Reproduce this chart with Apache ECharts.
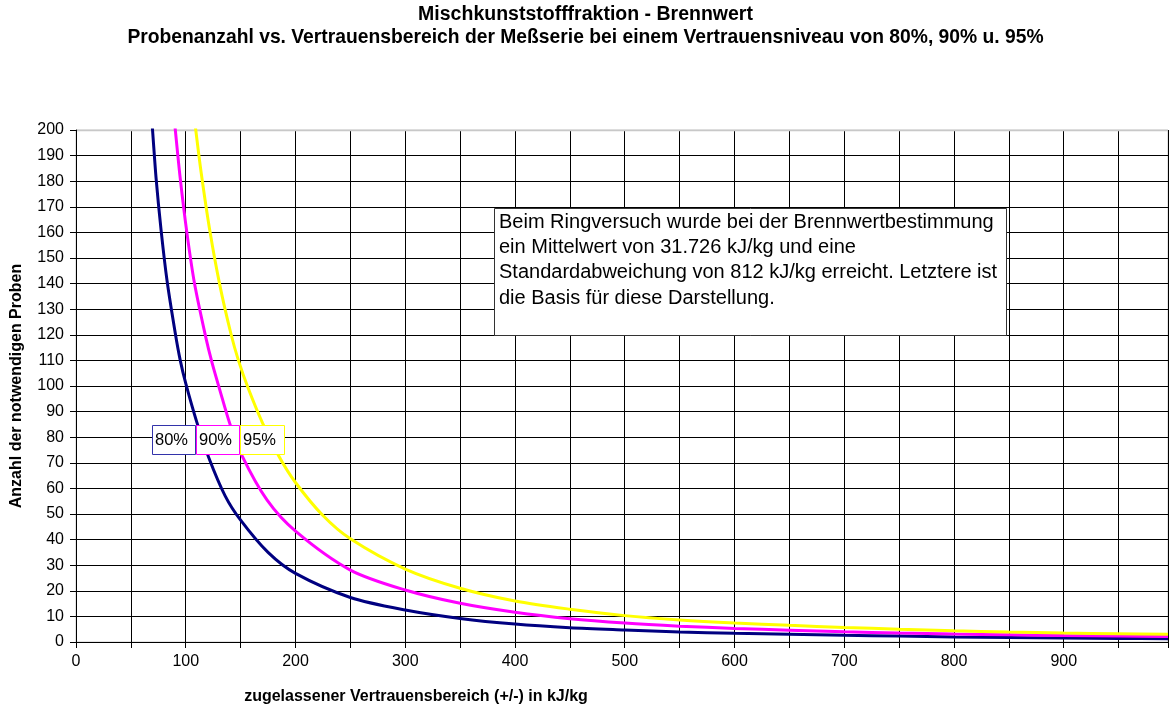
<!DOCTYPE html>
<html>
<head>
<meta charset="utf-8">
<script src="https://cdn.jsdelivr.net/npm/echarts@6/dist/echarts.min.js"></script>
<style>
html,body{margin:0;padding:0;background:#fff;}
#chart{width:1171px;height:707px;}
</style>
</head>
<body>
<div id="chart"></div>
<script>
// ---- data ----
const titleLine1 = 'Mischkunststofffraktion - Brennwert';
const titleLine2 = 'Probenanzahl vs. Vertrauensbereich der Meßserie bei einem Vertrauensniveau von 80%, 90% u. 95%';
const xAxisTitle = 'zugelassener Vertrauensbereich (+/-) in kJ/kg';
const yAxisTitle = 'Anzahl der notwendigen Proben';
const seriesNames = ['80%', '90%', '95%'];
const seriesColors = ['#000080', '#FF00FF', '#FFFF00'];

// 80 % confidence level
const E80 = [67, 70, 73, 77.5, 83, 90.5, 95, 100, 110, 121, 136, 150, 175, 200, 250, 300, 350, 400, 450, 500, 550, 600, 650, 700, 750, 800, 850, 900, 950, 995];
const N80 = [216, 198.5, 181, 161, 141, 120.5, 110, 101, 86, 72, 57, 47.6, 35, 26.8, 17.4, 12.5, 9.2, 7.0, 5.6, 4.7, 3.9, 3.4, 3.0, 2.6, 2.3, 2.0, 1.8, 1.6, 1.4, 1.3];
// 90 % confidence level
const E90 = [88, 90.5, 95, 101, 108, 118, 124, 131, 140, 151, 174, 200, 250, 300, 350, 400, 450, 500, 550, 600, 650, 700, 750, 800, 850, 900, 950, 995];
const N90 = [211, 200, 181, 160, 140, 119.5, 109, 98.5, 85.5, 73, 55.5, 43.3, 28.1, 20.3, 15.1, 11.6, 9.1, 7.4, 6.2, 5.3, 4.6, 4.0, 3.5, 3.1, 2.8, 2.5, 2.3, 2.1];
// 95 % confidence level
const E95 = [106, 109, 114, 122, 131, 141, 148, 157, 170, 185, 200, 225, 250, 300, 350, 400, 450, 500, 550, 600, 650, 700, 750, 800, 850, 900, 950, 995];
const N95 = [212, 200.5, 183.5, 160.5, 139.5, 120.7, 110, 99, 85.5, 72.5, 62.3, 49.4, 40.3, 28.5, 21, 16, 12.8, 10.3, 8.6, 7.4, 6.5, 5.7, 5.0, 4.4, 3.9, 3.5, 3.2, 3.0];

const xMin = 0, xMax = 995, xStep = 50, xLabelStep = 100;
const yMin = 0, yMax = 200, yStep = 10;

const noteLines = [
  'Beim Ringversuch wurde bei der Brennwertbestimmung',
  'ein Mittelwert von 31.726 kJ/kg und eine',
  'Standardabweichung von 812 kJ/kg erreicht. Letztere ist',
  'die Basis für diese Darstellung.'
];

// ---- chart ----
const pairs = (xs, ys) => xs.map((x, i) => [x, ys[i]]);
const allE = [E80, E90, E95];
const allN = [N80, N90, N95];

const chart = echarts.init(document.getElementById('chart'), null, {renderer: 'canvas'});
const FONT = '"Liberation Sans", Arial, sans-serif';

const annotationGraphics = [
  // axis titles
  {id: 'xt', type: 'text', x: 416, y: 697, z: 10,
   style: {text: xAxisTitle, font: 'bold 16px ' + FONT, fill: '#000', align: 'center', verticalAlign: 'middle'}},
  {id: 'yt', type: 'text', x: 17, y: 386, rotation: Math.PI / 2, z: 10,
   style: {text: yAxisTitle, font: 'bold 16px ' + FONT, fill: '#000', align: 'center', verticalAlign: 'middle'}},
  // note box
  {id: 'nb', type: 'rect', shape: {x: 494.5, y: 208.5, width: 512, height: 127}, z: 10,
   style: {fill: '#fff', stroke: '#333', lineWidth: 1}},
  {id: 'nt', type: 'text', x: 499, y: 209.5, z: 11,
   style: {text: noteLines.join('\n'), font: '20px ' + FONT, lineHeight: 25.3, fill: '#000', align: 'left', verticalAlign: 'top'}},
  // series labels
  {id: 'b0', type: 'rect', shape: {x: 152.5, y: 425.5, width: 43, height: 29}, z: 10,
   style: {fill: '#fff', stroke: '#3333aa', lineWidth: 1}},
  {id: 't0', type: 'text', x: 155, y: 440, z: 11,
   style: {text: seriesNames[0], font: '16.5px ' + FONT, fill: '#000', align: 'left', verticalAlign: 'middle'}},
  {id: 'b1', type: 'rect', shape: {x: 196.5, y: 425.5, width: 43, height: 29}, z: 10,
   style: {fill: '#fff', stroke: '#FF00FF', lineWidth: 1}},
  {id: 't1', type: 'text', x: 199, y: 440, z: 11,
   style: {text: seriesNames[1], font: '16.5px ' + FONT, fill: '#000', align: 'left', verticalAlign: 'middle'}},
  {id: 'b2', type: 'rect', shape: {x: 240.5, y: 425.5, width: 44, height: 29}, z: 10,
   style: {fill: '#fff', stroke: '#FFFF00', lineWidth: 1}},
  {id: 't2', type: 'text', x: 243, y: 440, z: 11,
   style: {text: seriesNames[2], font: '16.5px ' + FONT, fill: '#000', align: 'left', verticalAlign: 'middle'}}
];

const option = {
  backgroundColor: '#ffffff',
  animation: false,
  title: [
    {text: titleLine1, left: 'center', top: 5, padding: 0,
     textStyle: {fontFamily: FONT, fontSize: 19.5, fontWeight: 'bold', color: '#000'}},
    {text: titleLine2, left: 'center', top: 28, padding: 0,
     textStyle: {fontFamily: FONT, fontSize: 19.3, fontWeight: 'bold', color: '#000'}}
  ],
  grid: {left: 76, right: 3, top: 130, bottom: 65, show: true, borderColor: '#c8c8c8', borderWidth: 1, containLabel: false},
  xAxis: {
    type: 'value', min: xMin, max: xMax, interval: xStep,
    axisLine: {show: true, onZero: false, lineStyle: {color: '#000', width: 1}},
    axisTick: {show: true, length: 6, lineStyle: {color: '#000'}},
    axisLabel: {
      fontFamily: FONT, fontSize: 16, color: '#000', margin: 12,
      formatter: v => (v % xLabelStep === 0 ? String(v) : '')
    },
    splitLine: {show: true, lineStyle: {color: '#000', width: 1}}
  },
  yAxis: {
    type: 'value', min: yMin, max: yMax, interval: yStep,
    axisLine: {show: true, lineStyle: {color: '#000', width: 1}},
    axisTick: {show: true, length: 6, lineStyle: {color: '#000'}},
    axisLabel: {fontFamily: FONT, fontSize: 16, color: '#000', margin: 12},
    splitLine: {show: true, lineStyle: {color: '#000', width: 1}}
  },
  series: seriesNames.map((name, i) => ({
    name: name,
    type: 'line',
    data: pairs(allE[i], allN[i]),
    smooth: 0.3,
    showSymbol: false,
    symbol: 'none',
    clip: true,
    lineStyle: {color: seriesColors[i], width: 3},
    z: 3 + i
  })),
  graphic: annotationGraphics
};
chart.setOption(option);

// light grey top frame line of the plot area (drawn over the top grid line, under the curves)
const pTopLeft = chart.convertToPixel({gridIndex: 0}, [xMin, yMax]);
const pTopRight = chart.convertToPixel({gridIndex: 0}, [xMax, yMax]);
const yTop = Math.round(pTopLeft[1]) + 0.5;
chart.setOption({
  graphic: annotationGraphics.concat([
    {id: 'topFrame', type: 'line', z: 2, silent: true,
     shape: {x1: pTopLeft[0] + 1, y1: yTop, x2: pTopRight[0], y2: yTop},
     style: {stroke: '#c8c8c8', lineWidth: 1.5}}
  ])
});
</script>
</body>
</html>
